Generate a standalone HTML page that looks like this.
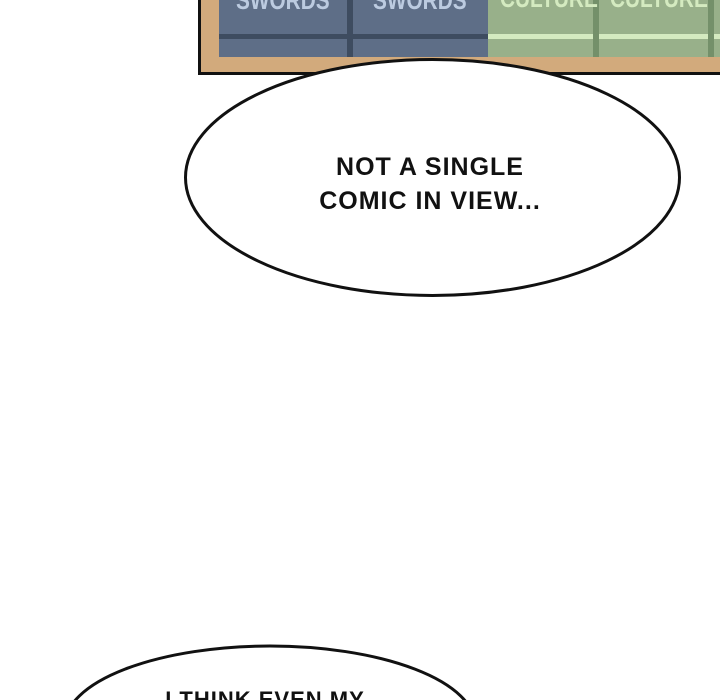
<!DOCTYPE html>
<html><head><style>
html,body{margin:0;width:720px;height:700px;overflow:hidden;background:#fff}
#w{position:relative;width:720px;height:700px;overflow:hidden;font-family:"Liberation Sans",sans-serif}
#w div{position:absolute}
.t{font-weight:bold;color:#111;text-align:center;letter-spacing:1px;white-space:nowrap}
.s{font:bold 26px "Liberation Sans Narrow","Liberation Sans",sans-serif;transform:scaleX(0.8);transform-origin:left top;white-space:nowrap}
</style></head><body><div id="w">
<div style="left:198px;top:-5px;width:522px;height:80px;background:#d2aa7c;border:3px solid #111;border-right:none;box-sizing:border-box"></div>
<div style="left:219px;top:0;width:269px;height:57px;background:#5e6e87"></div>
<div style="left:219px;top:34px;width:269px;height:5px;background:#3e4c60"></div>
<div style="left:347px;top:0;width:6px;height:57px;background:#3e4c60"></div>
<div style="left:488px;top:0;width:232px;height:57px;background:#98b08a"></div>
<div style="left:488px;top:34px;width:232px;height:5px;background:#d4eac0"></div>
<div style="left:593px;top:0;width:6px;height:57px;background:#74906a"></div>
<div style="left:708px;top:0;width:6px;height:57px;background:#74906a"></div>
<div class="s" style="left:236px;top:-15px;color:#bccbe0">SWORDS</div>
<div class="s" style="left:373px;top:-15px;color:#bccbe0">SWORDS</div>
<div class="s" style="left:500px;top:-17px;color:#d4eac0">CULTURE</div>
<div class="s" style="left:610px;top:-17px;color:#d4eac0">CULTURE</div>
<svg width="720" height="700" style="position:absolute;left:0;top:0" viewBox="0 0 720 700">
<ellipse cx="432.5" cy="177.5" rx="247" ry="118" fill="#fff" stroke="#111" stroke-width="3"/>
<ellipse cx="270" cy="725" rx="205" ry="79" fill="#fff" stroke="#111" stroke-width="3"/>
</svg>
<div class="t" style="left:250px;top:150px;width:360px;font-size:25px;line-height:34px">NOT A SINGLE<br>COMIC IN VIEW...</div>
<div class="t" style="left:150px;top:688px;width:230px;font-size:22px;line-height:24px;height:12px;overflow:hidden">I THINK EVEN MY</div>
</div></body></html>
